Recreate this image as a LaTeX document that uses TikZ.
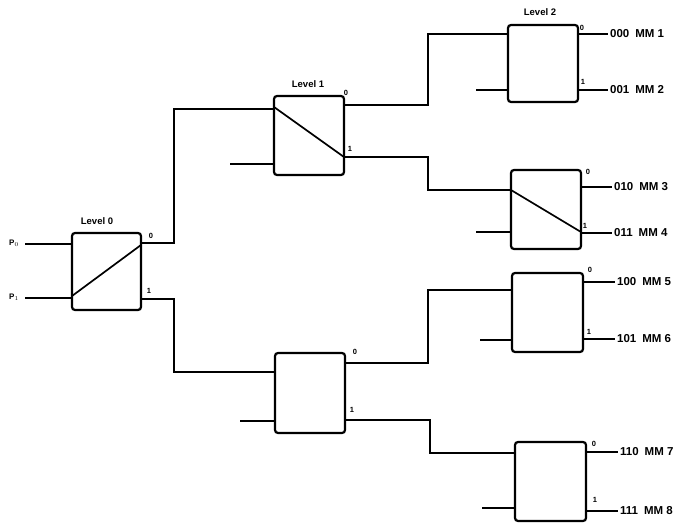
\documentclass[tikz,border=0pt]{standalone}
\usepackage{fontspec}
\setmainfont{Liberation Sans}
\begin{document}
\begin{tikzpicture}[x=1pt,y=-1pt,
  swbox/.style={draw,line width=2.2pt,rounded corners=3pt,inner sep=0pt},
  wire/.style={line width=1.6pt},
  diag/.style={line width=1.7pt},
  lvl/.style={font=\bfseries\fontsize{9.5}{10}\selectfont,inner sep=0pt},
  port/.style={font=\bfseries\fontsize{7.5}{8}\selectfont,inner sep=0pt},
  dest/.style={font=\bfseries\fontsize{11.5}{12}\selectfont,inner sep=0pt,anchor=west,xshift=2pt},
  inlab/.style={font=\bfseries\fontsize{8}{8}\selectfont,inner sep=0pt}]
\useasboundingbox (0,0) rectangle (681,524);
\fill[white] (0,0) rectangle (681,524);

% boxes
\node[swbox,minimum width=69pt,minimum height=77pt] (B0) at (106.5,271.5) {};
\node[swbox,minimum width=70pt,minimum height=79pt] (B1a) at (309,135.5) {};
\node[swbox,minimum width=70pt,minimum height=80pt] (B1b) at (310,393) {};
\node[swbox,minimum width=70pt,minimum height=77pt] (B2a) at (543,63.5) {};
\node[swbox,minimum width=70pt,minimum height=79pt] (B2b) at (546,209.5) {};
\node[swbox,minimum width=71pt,minimum height=79pt] (B2c) at (547.5,312.5) {};
\node[swbox,minimum width=71pt,minimum height=79pt] (B2d) at (550.5,481.5) {};

% level labels
\node[lvl] (L0) at (97,221) {Level 0};
\node[lvl] (L1) at (308,84) {Level 1};
\node[lvl] (L2) at (540,12) {Level 2};

% ports: level 0
\coordinate (B0i0) at (72,244);
\coordinate (B0i1) at (72,298);
\coordinate (P0e) at (25,244);
\coordinate (P1e) at (25,298);
\node[inlab] (P0) at (14,243) {P$_0$};
\node[inlab] (P1) at (14,297) {P$_1$};
\draw[wire] (P0e) -- (B0i0);
\draw[wire] (P1e) -- (B0i1);
\coordinate (B0o0) at (141,243);
\coordinate (B0o1) at (141,299);
\node[port] (B0l0) at (151,236) {0};
\node[port] (B0l1) at (149,291) {1};
\draw[diag] (72,296) -- (141,245);

% level 1 upper
\coordinate (B1ai0) at (274,109);
\coordinate (B1ai1) at (274,164);
\coordinate (B1aie) at (230,164);
\coordinate (B1ao0) at (344,105);
\coordinate (B1ao1) at (344,157);
\node[port] (B1al0) at (346,93) {0};
\node[port] (B1al1) at (350,149) {1};
\draw[diag] (274,107) -- (344,157);
\draw[wire] (B0o0) -| (174,175) |- (B1ai0);
\draw[wire] (B1aie) -- (B1ai1);

% level 1 lower
\coordinate (B1bi0) at (275,372);
\coordinate (B1bi1) at (275,421);
\coordinate (B1bie) at (240,421);
\coordinate (B1bo0) at (345,363);
\coordinate (B1bo1) at (345,420);
\node[port] (B1bl0) at (355,352) {0};
\node[port] (B1bl1) at (352,410) {1};
\draw[wire] (B0o1) -| (174,340) |- (B1bi0);
\draw[wire] (B1bie) -- (B1bi1);

% level 2 a
\coordinate (B2ai0) at (508,34);
\coordinate (B2ai1) at (508,90);
\coordinate (B2aie) at (476,90);
\coordinate (B2ao0) at (578,34);
\coordinate (B2ao1) at (578,90);
\coordinate (D1) at (608,34);
\coordinate (D2) at (608,90);
\node[port] (B2al0) at (582,28) {0};
\node[port] (B2al1) at (583,82) {1};
\draw[wire] (B1ao0) -| (428,70) |- (B2ai0);
\draw[wire] (B2aie) -- (B2ai1);
\draw[wire] (B2ao0) -- (D1);
\draw[wire] (B2ao1) -- (D2);
\node[dest] (M1) at (D1) {000\hspace{6pt}MM 1};
\node[dest] (M2) at (D2) {001\hspace{6pt}MM 2};

% level 2 b
\coordinate (B2bi0) at (511,190);
\coordinate (B2bi1) at (511,232);
\coordinate (B2bie) at (476,232);
\coordinate (B2bo0) at (581,187);
\coordinate (B2bo1) at (581,233);
\coordinate (D3) at (612,187);
\coordinate (D4) at (612,233);
\node[port] (B2bl0) at (588,172) {0};
\node[port] (B2bl1) at (585,226) {1};
\draw[diag] (511,190) -- (581,232);
\draw[wire] (B1ao1) -| (428,175) |- (B2bi0);
\draw[wire] (B2bie) -- (B2bi1);
\draw[wire] (B2bo0) -- (D3);
\draw[wire] (B2bo1) -- (D4);
\node[dest] (M3) at (D3) {010\hspace{6pt}MM 3};
\node[dest] (M4) at (D4) {011\hspace{6pt}MM 4};

% level 2 c
\coordinate (B2ci0) at (512,290);
\coordinate (B2ci1) at (512,340);
\coordinate (B2cie) at (480,340);
\coordinate (B2co0) at (583,282);
\coordinate (B2co1) at (583,339);
\coordinate (D5) at (615,282);
\coordinate (D6) at (615,339);
\node[port] (B2cl0) at (590,270) {0};
\node[port] (B2cl1) at (589,332) {1};
\draw[wire] (B1bo0) -| (428,330) |- (B2ci0);
\draw[wire] (B2cie) -- (B2ci1);
\draw[wire] (B2co0) -- (D5);
\draw[wire] (B2co1) -- (D6);
\node[dest] (M5) at (D5) {100\hspace{6pt}MM 5};
\node[dest] (M6) at (D6) {101\hspace{6pt}MM 6};

% level 2 d
\coordinate (B2di0) at (515,453);
\coordinate (B2di1) at (515,508);
\coordinate (B2die) at (482,508);
\coordinate (B2do0) at (586,452);
\coordinate (B2do1) at (586,511);
\coordinate (D7) at (618,452);
\coordinate (D8) at (618,511);
\node[port] (B2dl0) at (594,444) {0};
\node[port] (B2dl1) at (595,500) {1};
\draw[wire] (B1bo1) -| (430,440) |- (B2di0);
\draw[wire] (B2die) -- (B2di1);
\draw[wire] (B2do0) -- (D7);
\draw[wire] (B2do1) -- (D8);
\node[dest] (M7) at (D7) {110\hspace{6pt}MM 7};
\node[dest] (M8) at (D8) {111\hspace{6pt}MM 8};
\end{tikzpicture}
\end{document}
